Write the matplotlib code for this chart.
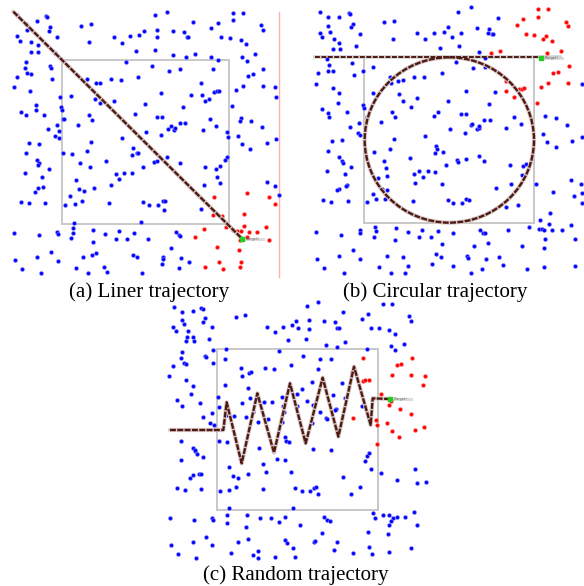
import matplotlib
matplotlib.use("Agg")
import matplotlib.pyplot as plt
from matplotlib.patches import Rectangle, Ellipse

# ---------------- Panel (a): linear trajectory ----------------
a_blue_x = [138,142,465,500,700,728,52,110,78,150,80,147,244,272,578,655,633,700,783,788,432,472,520,552,472,342,390,418,560,565,662,690,722,52,60,94,172,268,365,738,114,
            92,115,165,408,464,520,557,586,632,654,725,741,766,78,76,150,153,377,455,540,506,640,790,
            82,94,50,155,262,288,300,334,364,414,604,730,789,826,743,760,42,90,484,572,607,642,650,656,708,179,212,284,300,343,627,614,828,
            108,108,182,186,62,78,133,188,192,268,276,405,470,486,550,435,697,723,720,630,235,540,555,512,505,522,526,143,170,176,608,648,680,787,754,166,178,484,438,713,683,828,
            88,118,274,367,400,395,410,414,727,751,801,190,215,262,78,112,118,115,148,241,319,462,470,500,540,680,676,660,649,616,271,428,397,373,347,76,126,227,334,358,612,651,660,800,826,
            130,115,104,237,251,282,209,64,88,136,196,226,246,328,430,448,475,488,494,493,602,836,
            223,424,42,118,171,173,219,219,214,280,315,356,348,382,401,445,527,536,540,278,512,152,110,44,173,250,276,288,398,411,489,490,542,567,66,122,229,263,312,320,427,486,536]
a_blue_y = [48,52,45,35,38,40,45,62,72,80,90,92,77,73,66,70,85,60,75,90,92,90,93,96,110,110,108,104,112,112,112,114,120,108,122,125,112,126,128,133,136,
            155,155,160,152,150,165,170,162,170,180,170,182,162,186,205,198,205,185,198,208,212,206,208,
            220,222,230,236,238,250,248,238,240,230,250,258,259,262,228,223,262,272,280,284,284,275,274,274,270,292,288,298,310,302,297,302,290,
            316,330,322,330,336,345,346,356,358,345,360,343,350,351,320,312,318,354,364,357,374,369,369,378,387,390,385,386,376,392,390,379,396,381,362,408,415,405,395,408,412,417,
            430,432,425,415,445,465,460,458,431,446,428,459,462,452,460,480,490,495,506,490,482,486,484,470,488,470,479,497,508,502,502,502,518,518,522,519,530,540,555,538,555,530,548,547,557,
            562,565,575,567,574,563,588,606,610,608,614,611,602,608,605,614,614,603,603,630,626,584,
            668,667,700,706,697,703,685,700,714,690,701,694,716,716,698,717,695,706,708,726,743,755,772,780,782,772,765,760,765,771,770,778,773,786,808,820,803,820,800,816,820,793,803]
a_red_x = [742,643,638,665,733,807,826,613,586,679,700,712,724,733,747,770,798,808,740,720,651,716,657,723,720,668,614]
a_red_y = [578,592,646,648,643,590,612,688,710,680,690,693,693,678,695,695,681,720,710,720,742,749,785,786,801,808,801]
a_path_x = [40, 700, 727]
a_path_y = [35, 690, 717]
a_box = (187, 181, 686, 673)
a_target = (727, 717)

# ---------------- Panel (b): circular trajectory ----------------
b_blue_x = [75,100,133,162,165,490,527,608,100,74,82,104,173,168,195,268,296,459,447,418,366,390,294,498,470,547,583,580,590,595,117,132,115,134,184,436,491,553,570,
            96,103,114,100,70,178,172,235,203,285,310,323,358,388,442,483,534,570,62,113,133,234,313,288,512,600,324,366,460,583,130,82,98,102,155,203,208,215,290,300,348,429,416,497,513,
            259,568,585,527,531,545,553,553,464,509,634,658,679,749,784,817,166,192,188,195,110,140,390,297,422,426,420,443,238,268,284,98,344,487,490,512,552,567,743,755,782,831,860,860,
            133,140,144,167,96,149,274,400,453,357,373,384,421,645,684,692,680,360,440,276,248,233,262,275,156,153,133,125,85,108,159,217,243,270,355,458,474,500,514,523,604,647,722,773,838,829,857,860,861,
            632,668,764,735,763,62,138,195,196,240,242,236,304,340,380,372,408,429,474,554,563,569,640,701,732,740,748,770,800,828,750,840,300,440,538,580,680,746,
            175,133,195,275,325,424,437,516,519,572,612,65,88,146,253,288,330,339,411,473,527,561,623,697,748,839]
b_blue_y = [36,52,52,38,42,35,22,55,78,98,110,97,72,82,102,67,64,80,95,98,100,118,117,98,110,83,86,100,102,102,116,128,146,146,138,143,138,156,175,
            176,195,214,212,220,225,190,201,213,230,242,241,230,230,218,187,205,200,252,264,278,279,283,250,272,275,302,294,303,312,308,328,338,350,336,314,323,352,336,352,320,336,349,342,343,
            366,361,361,376,371,386,383,377,388,398,383,350,372,347,355,375,380,369,400,405,422,421,408,416,438,447,460,455,455,482,447,454,475,480,486,478,467,482,402,425,440,422,410,253,
            472,484,490,500,513,523,505,513,496,522,512,531,516,495,498,492,524,550,552,528,534,582,568,570,556,558,567,570,601,605,604,607,598,598,604,601,608,609,597,599,565,553,552,575,587,541,553,608,580,
            620,615,640,660,672,697,705,691,698,680,694,712,685,695,691,712,712,693,700,691,700,699,689,680,686,688,690,690,690,676,716,716,721,733,739,730,738,745,
            751,768,778,768,772,762,772,768,773,776,770,778,805,818,800,818,818,798,793,797,818,807,795,806,800,798]
b_red_x = [730,760,728,665,684,814,820,693,718,752,770,745,588,614,757,797,788,774,822,820,760,737,632,634,656,672,680,688,726]
b_red_y = [28,28,50,75,58,65,78,102,104,108,123,118,160,152,160,153,215,218,198,250,250,262,242,274,290,268,266,265,310]
b_line_x = [60, 738]
b_line_y = [172, 172]
b_circle = (463, 420, 508, 496)  # centre x, centre y, width, height
b_box = (208, 172, 716, 668)
b_target = (738, 174)

# ---------------- Panel (c): random trajectory ----------------
c_blue_x = [42,66,98,124,128,440,474,550,625,668,696,748,752,606,65,72,40,48,85,82,98,78,102,134,130,156,146,228,254,320,344,368,396,408,447,447,492,526,530,537,415,384,437,497,532,556,632,658,688,706,693,706,732,
            160,198,66,64,72,78,40,136,138,160,194,356,430,480,514,622,242,246,266,272,314,342,392,474,28,78,100,94,52,66,120,175,176,194,264,246,270,312,336,366,411,457,425,460,545,520,528,370,372,412,440,480,497,500,526,556,606,
            156,130,150,162,200,222,258,280,294,323,366,455,63,98,104,106,62,112,128,176,200,298,374,378,388,460,512,620,626,616,634,662,352,374,310,318,208,218,234,263,392,548,90,100,118,122,
            52,76,122,180,208,229,310,406,426,450,462,468,473,572,600,710,765,772,797,206,398,640,31,102,156,158,200,202,262,259,300,332,356,376,420,492,500,510,686,668,644,700,712,736,762,772,687,692,623,486,
            138,156,98,34,54,212,234,264,280,293,376,382,400,344,406,462,466,530,522,578,628,684,688,636,752,108,294]
c_blue_y = [35,50,48,38,42,33,22,52,56,28,28,64,77,73,75,87,97,108,108,125,125,138,138,70,80,97,133,65,61,97,112,95,90,77,76,102,78,82,98,98,98,135,132,150,155,141,98,100,104,118,153,166,148,
            164,162,170,190,205,208,212,183,187,205,193,168,182,193,191,163,220,243,234,232,220,222,211,221,242,254,272,296,316,333,323,307,337,269,278,323,310,320,322,306,298,262,282,330,264,300,343,334,352,333,319,352,368,372,345,308,333,
            353,365,385,390,360,363,367,352,380,372,381,383,437,458,468,465,495,478,485,437,440,460,425,437,440,462,464,483,475,498,522,535,492,494,507,532,517,543,548,538,532,547,548,540,538,537,
            578,584,582,587,586,576,581,578,587,588,578,576,598,598,575,555,522,565,560,640,640,654,670,676,668,676,660,684,660,697,668,668,680,666,690,667,675,678,660,660,668,668,665,666,652,690,690,678,710,714,
            725,751,742,750,777,773,742,733,780,768,735,745,758,787,787,742,738,742,766,773,755,718,770,778,758,788,790]
c_red_x = [610,710,724,756,696,752,794,790,576,608,616,626,664,686,694,720,752,578,648,650,680,695,718,766,792,650]
c_red_y = [188,210,208,190,240,240,243,270,232,258,256,256,298,330,318,343,358,368,375,390,385,408,426,405,395,448]
c_path_x = [30,190,200,245,292,342,390,437,488,535,582,632,638,690]
c_path_y = [405,405,322,505,295,473,265,445,248,425,215,390,310,312]
c_box = (172, 162, 655, 645)
c_target = (690, 312)

captions = ["(a) Liner trajectory", "(b) Circular trajectory", "(c) Random trajectory"]

W, H = 584, 586
fig = plt.figure(figsize=(W / 100, H / 100), dpi=100)

PATH = "#4e1a12"
GRAY = "#c8c8c8"


def make_ax(px, py, pw, ph):
    ax = fig.add_axes([px / W, 1 - (py + ph) / H, pw / W, ph / H])
    ax.set_xlim(0, pw * 3)
    ax.set_ylim(ph * 3, 0)
    ax.axis("off")
    return ax


def draw_common(ax, bx, by, rx, ry, box, target):
    x0, y0, x1, y1 = box
    ax.add_patch(Rectangle((x0, y0), x1 - x0, y1 - y0, fill=False,
                           edgecolor=GRAY, lw=1.4, zorder=1))
    ax.scatter(bx, by, s=8, color="#0000ff", edgecolors="#8888ff",
               linewidths=0.4, zorder=3)
    ax.scatter(rx, ry, s=8, color="#ff0000", edgecolors="#ff8888",
               linewidths=0.4, zorder=3)
    ax.plot([target[0] + 4, target[0] + 62], [target[1], target[1]],
            color="#dddddd", lw=2.2, zorder=2)
    ax.scatter([target[0]], [target[1]], s=7, marker="s", color="#22cc22", zorder=6)
    ax.text(target[0] + 10, target[1], "(Target)", fontsize=2.5, color="#666666",
            va="center", ha="left", zorder=6)


def draw_path(ax, xs, ys):
    ax.plot(xs, ys, color="#d8c8c8", lw=3.0, zorder=4, solid_capstyle="round")
    ax.plot(xs, ys, color=PATH, lw=1.7, zorder=5, dashes=(2.5, 0.6))


# (a)
ax = make_ax(0, 0, 290, 280)
draw_common(ax, a_blue_x, a_blue_y, a_red_x, a_red_y, a_box, a_target)
draw_path(ax, a_path_x, a_path_y)
ax.plot([838, 838], [35, 830], color="#ffb0b0", lw=1.0, zorder=1)

# (b)
ax = make_ax(295, 0, 289, 280)
draw_common(ax, b_blue_x, b_blue_y, b_red_x, b_red_y, b_box, b_target)
ax.plot([60, 795], [172, 172], color="#d0d0d0", lw=2.6, zorder=2)
ax.plot(b_line_x, b_line_y, color=PATH, lw=1.4, zorder=5, dashes=(2.5, 0.8))
cx, cy, cw, ch = b_circle
ax.add_patch(Ellipse((cx, cy), cw, ch, fill=False, edgecolor="#d8c8c8", lw=3.0, zorder=4))
ax.add_patch(Ellipse((cx, cy), cw, ch, fill=False, edgecolor=PATH, lw=1.7,
                     linestyle=(0, (2.5, 0.6)), zorder=5))

# (c)
ax = make_ax(160, 295, 270, 265)
draw_common(ax, c_blue_x, c_blue_y, c_red_x, c_red_y, c_box, c_target)
draw_path(ax, c_path_x, c_path_y)

fig.text(149.5 / W, 1 - 297 / H, captions[0], ha="center", va="baseline",
         family="Liberation Serif", fontsize=15.1)
fig.text(435.5 / W, 1 - 297 / H, captions[1], ha="center", va="baseline",
         family="Liberation Serif", fontsize=15.1)
fig.text(295.5 / W, 1 - 580 / H, captions[2], ha="center", va="baseline",
         family="Liberation Serif", fontsize=15.1)

fig.savefig("out.png", dpi=100)
